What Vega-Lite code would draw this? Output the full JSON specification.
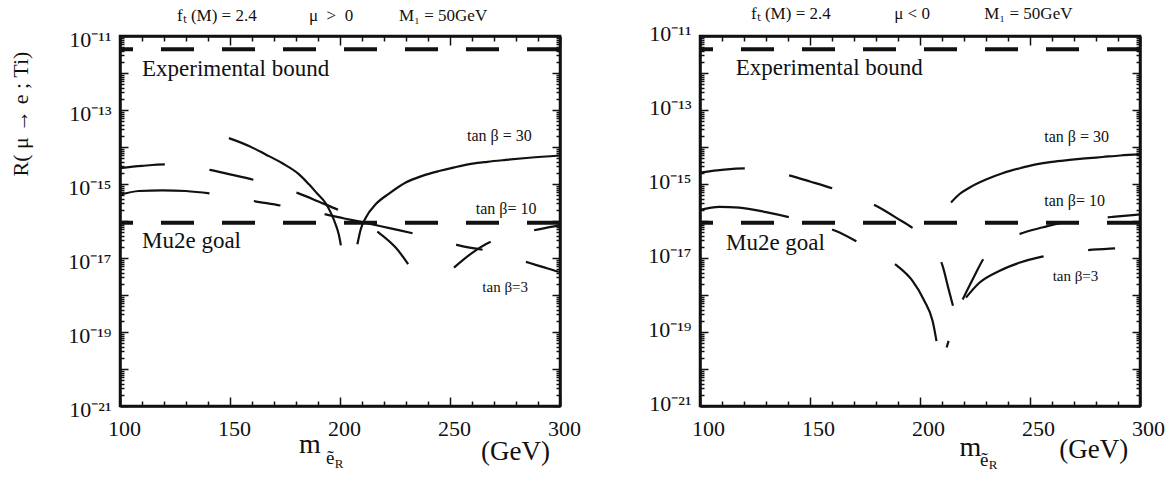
{
  "$schema": "https://vega.github.io/schema/vega-lite/v6.json",
  "padding": {"left": 8, "top": 4, "right": 0, "bottom": 0},
  "background": "white",
  "spacing": 140,
  "bounds": "flush",
  "config": {
    "view": {"stroke": "#111", "strokeWidth": 2.5},
    "font": "Liberation Serif",
    "axis": {"grid": false, "domainColor": "#111", "domainWidth": 2.5, "tickColor": "#111", "tickWidth": 1.5, "labelFont": "Liberation Serif", "labelColor": "#111", "labelFontSize": 22, "labelOverlap": false, "labelFlush": false, "labelBound": false},
    "text": {"font": "Liberation Serif", "color": "#111"}
  },
  "datasets": {
    "curves": [
      {"p":"L","s":"30","b":1,"x":149.5,"y":1.74e-14},
      {"p":"L","s":"30","b":1,"x":158.6,"y":1.07e-14},
      {"p":"L","s":"30","b":1,"x":166.2,"y":6.31e-15},
      {"p":"L","s":"30","b":1,"x":173.8,"y":3.63e-15},
      {"p":"L","s":"30","b":1,"x":181.4,"y":1.82e-15},
      {"p":"L","s":"30","b":1,"x":185.9,"y":9.77e-16},
      {"p":"L","s":"30","b":1,"x":189.5,"y":5.62e-16},
      {"p":"L","s":"30","b":1,"x":193.5,"y":3.02e-16},
      {"p":"L","s":"30","b":1,"x":196.0,"y":1.58e-16},
      {"p":"L","s":"30","b":1,"x":198.0,"y":8.13e-17},
      {"p":"L","s":"30","b":1,"x":199.5,"y":4.17e-17},
      {"p":"L","s":"30","b":1,"x":200.4,"y":2.19e-17},
      {"p":"L","s":"30","b":2,"x":207.9,"y":2.34e-17},
      {"p":"L","s":"30","b":2,"x":209.4,"y":5.89e-17},
      {"p":"L","s":"30","b":2,"x":211.7,"y":1.23e-16},
      {"p":"L","s":"30","b":2,"x":216.2,"y":2.82e-16},
      {"p":"L","s":"30","b":2,"x":222.3,"y":5.50e-16},
      {"p":"L","s":"30","b":2,"x":229.9,"y":1.10e-15},
      {"p":"L","s":"30","b":2,"x":237.4,"y":1.66e-15},
      {"p":"L","s":"30","b":2,"x":245.0,"y":2.24e-15},
      {"p":"L","s":"30","b":2,"x":252.0,"y":2.82e-15},
      {"p":"L","s":"30","b":2,"x":260.2,"y":3.55e-15},
      {"p":"L","s":"30","b":2,"x":267.0,"y":3.98e-15},
      {"p":"L","s":"30","b":2,"x":275.3,"y":4.47e-15},
      {"p":"L","s":"30","b":2,"x":286.0,"y":5.13e-15},
      {"p":"L","s":"30","b":2,"x":300.0,"y":5.89e-15},
      {"p":"L","s":"10","b":1,"x":100.0,"y":2.69e-15},
      {"p":"L","s":"10","b":1,"x":110.0,"y":3.09e-15},
      {"p":"L","s":"10","b":1,"x":120.5,"y":3.39e-15},
      {"p":"L","s":"10","b":1,"x":127.0,"y":3.24e-15},
      {"p":"L","s":"10","b":1,"x":133.0,"y":2.88e-15},
      {"p":"L","s":"10","b":1,"x":140.8,"y":2.40e-15},
      {"p":"L","s":"10","b":1,"x":150.0,"y":1.82e-15},
      {"p":"L","s":"10","b":1,"x":160.9,"y":1.29e-15},
      {"p":"L","s":"10","b":1,"x":171.0,"y":8.71e-16},
      {"p":"L","s":"10","b":1,"x":180.6,"y":5.75e-16},
      {"p":"L","s":"10","b":1,"x":190.5,"y":3.31e-16},
      {"p":"L","s":"10","b":1,"x":200.3,"y":1.86e-16},
      {"p":"L","s":"10","b":1,"x":209.0,"y":1.00e-16},
      {"p":"L","s":"10","b":1,"x":217.7,"y":4.79e-17},
      {"p":"L","s":"10","b":1,"x":225.3,"y":1.91e-17},
      {"p":"L","s":"10","b":1,"x":232.1,"y":5.50e-18},
      {"p":"L","s":"10","b":2,"x":251.8,"y":5.50e-18},
      {"p":"L","s":"10","b":2,"x":260.1,"y":1.38e-17},
      {"p":"L","s":"10","b":2,"x":268.5,"y":2.75e-17},
      {"p":"L","s":"10","b":2,"x":278.0,"y":4.07e-17},
      {"p":"L","s":"10","b":2,"x":288.2,"y":5.62e-17},
      {"p":"L","s":"10","b":2,"x":298.0,"y":7.24e-17},
      {"p":"L","s":"10","b":2,"x":300.0,"y":7.59e-17},
      {"p":"L","s":"3","b":1,"x":100.0,"y":5.13e-16},
      {"p":"L","s":"3","b":1,"x":108.6,"y":6.46e-16},
      {"p":"L","s":"3","b":1,"x":119.2,"y":6.76e-16},
      {"p":"L","s":"3","b":1,"x":129.9,"y":6.46e-16},
      {"p":"L","s":"3","b":1,"x":141.2,"y":5.50e-16},
      {"p":"L","s":"3","b":1,"x":150.0,"y":4.57e-16},
      {"p":"L","s":"3","b":1,"x":160.9,"y":3.47e-16},
      {"p":"L","s":"3","b":1,"x":173.8,"y":2.57e-16},
      {"p":"L","s":"3","b":1,"x":183.0,"y":2.00e-16},
      {"p":"L","s":"3","b":1,"x":193.5,"y":1.51e-16},
      {"p":"L","s":"3","b":1,"x":202.0,"y":1.17e-16},
      {"p":"L","s":"3","b":1,"x":211.7,"y":8.91e-17},
      {"p":"L","s":"3","b":1,"x":223.0,"y":6.31e-17},
      {"p":"L","s":"3","b":1,"x":235.1,"y":4.37e-17},
      {"p":"L","s":"3","b":1,"x":245.0,"y":3.16e-17},
      {"p":"L","s":"3","b":1,"x":254.1,"y":2.19e-17},
      {"p":"L","s":"3","b":1,"x":267.4,"y":1.55e-17},
      {"p":"L","s":"3","b":1,"x":277.0,"y":1.10e-17},
      {"p":"L","s":"3","b":1,"x":285.9,"y":7.41e-18},
      {"p":"L","s":"3","b":1,"x":292.0,"y":5.75e-18},
      {"p":"L","s":"3","b":1,"x":298.0,"y":4.47e-18},
      {"p":"L","s":"3","b":1,"x":300.0,"y":4.17e-18},
      {"p":"R","s":"30","b":1,"x":214.1,"y":3.16e-16},
      {"p":"R","s":"30","b":1,"x":218.0,"y":5.37e-16},
      {"p":"R","s":"30","b":1,"x":222.4,"y":7.94e-16},
      {"p":"R","s":"30","b":1,"x":230.0,"y":1.32e-15},
      {"p":"R","s":"30","b":1,"x":237.5,"y":1.95e-15},
      {"p":"R","s":"30","b":1,"x":245.0,"y":2.63e-15},
      {"p":"R","s":"30","b":1,"x":252.7,"y":3.39e-15},
      {"p":"R","s":"30","b":1,"x":260.0,"y":3.98e-15},
      {"p":"R","s":"30","b":1,"x":267.9,"y":4.47e-15},
      {"p":"R","s":"30","b":1,"x":275.0,"y":4.90e-15},
      {"p":"R","s":"30","b":1,"x":283.0,"y":5.37e-15},
      {"p":"R","s":"30","b":1,"x":291.0,"y":5.89e-15},
      {"p":"R","s":"30","b":1,"x":300.0,"y":6.31e-15},
      {"p":"R","s":"10","b":1,"x":100.0,"y":2.04e-15},
      {"p":"R","s":"10","b":1,"x":111.0,"y":2.45e-15},
      {"p":"R","s":"10","b":1,"x":120.9,"y":2.63e-15},
      {"p":"R","s":"10","b":1,"x":127.0,"y":2.51e-15},
      {"p":"R","s":"10","b":1,"x":134.0,"y":2.14e-15},
      {"p":"R","s":"10","b":1,"x":141.4,"y":1.66e-15},
      {"p":"R","s":"10","b":1,"x":150.0,"y":1.17e-15},
      {"p":"R","s":"10","b":1,"x":161.8,"y":7.08e-16},
      {"p":"R","s":"10","b":1,"x":171.0,"y":4.47e-16},
      {"p":"R","s":"10","b":1,"x":180.0,"y":2.57e-16},
      {"p":"R","s":"10","b":1,"x":189.1,"y":1.23e-16},
      {"p":"R","s":"10","b":1,"x":198.2,"y":5.37e-17},
      {"p":"R","s":"10","b":1,"x":204.0,"y":2.24e-17},
      {"p":"R","s":"10","b":1,"x":210.3,"y":6.03e-18},
      {"p":"R","s":"10","b":1,"x":212.9,"y":1.51e-18},
      {"p":"R","s":"10","b":1,"x":215.6,"y":3.72e-19},
      {"p":"R","s":"10","b":2,"x":219.4,"y":7.59e-19},
      {"p":"R","s":"10","b":2,"x":224.2,"y":2.82e-18},
      {"p":"R","s":"10","b":2,"x":229.2,"y":1.02e-17},
      {"p":"R","s":"10","b":2,"x":237.0,"y":2.51e-17},
      {"p":"R","s":"10","b":2,"x":245.9,"y":4.57e-17},
      {"p":"R","s":"10","b":2,"x":256.0,"y":6.76e-17},
      {"p":"R","s":"10","b":2,"x":266.4,"y":9.55e-17},
      {"p":"R","s":"10","b":2,"x":277.0,"y":1.12e-16},
      {"p":"R","s":"10","b":2,"x":287.5,"y":1.29e-16},
      {"p":"R","s":"10","b":2,"x":300.0,"y":1.51e-16},
      {"p":"R","s":"3","b":1,"x":100.0,"y":2.00e-16},
      {"p":"R","s":"3","b":1,"x":108.8,"y":2.40e-16},
      {"p":"R","s":"3","b":1,"x":117.9,"y":2.29e-16},
      {"p":"R","s":"3","b":1,"x":130.0,"y":1.74e-16},
      {"p":"R","s":"3","b":1,"x":141.4,"y":1.23e-16},
      {"p":"R","s":"3","b":1,"x":151.0,"y":8.51e-17},
      {"p":"R","s":"3","b":1,"x":161.8,"y":5.37e-17},
      {"p":"R","s":"3","b":1,"x":172.4,"y":2.57e-17},
      {"p":"R","s":"3","b":1,"x":181.0,"y":1.32e-17},
      {"p":"R","s":"3","b":1,"x":189.8,"y":6.03e-18},
      {"p":"R","s":"3","b":1,"x":196.6,"y":2.40e-18},
      {"p":"R","s":"3","b":1,"x":202.0,"y":6.92e-19},
      {"p":"R","s":"3","b":1,"x":205.7,"y":2.00e-19},
      {"p":"R","s":"3","b":1,"x":208.0,"y":3.80e-20},
      {"p":"R","s":"3","b":2,"x":212.1,"y":3.80e-20},
      {"p":"R","s":"3","b":2,"x":213.0,"y":5.75e-20},
      {"p":"R","s":"3","b":3,"x":220.9,"y":8.51e-19},
      {"p":"R","s":"3","b":3,"x":227.0,"y":2.14e-18},
      {"p":"R","s":"3","b":3,"x":236.0,"y":4.47e-18},
      {"p":"R","s":"3","b":3,"x":245.1,"y":7.41e-18},
      {"p":"R","s":"3","b":3,"x":255.0,"y":1.07e-17},
      {"p":"R","s":"3","b":3,"x":265.0,"y":1.35e-17},
      {"p":"R","s":"3","b":3,"x":275.5,"y":1.62e-17},
      {"p":"R","s":"3","b":3,"x":288.3,"y":1.82e-17},
      {"p":"R","s":"3","b":3,"x":300.0,"y":1.95e-17}
    ]
  },
  "hconcat": [
    {
      "width": 440, "height": 370,
      "resolve": {"axis": {"x": "independent", "y": "independent"}},
      "layer": [
        {
          "data": {"name": "curves"},
          "transform": [{"filter": "datum.p == 'L' && datum.s == '30'"}],
          "mark": {"type": "line", "stroke": "#111", "strokeWidth": 2.2, "interpolate": "monotone"},
          "encoding": {
            "x": {"field": "x", "type": "quantitative", "scale": {"domain": [100, 300], "nice": false, "zero": false},
              "axis": {"orient": "bottom", "title": null, "values": [100,110,120,130,140,150,160,170,180,190,200,210,220,230,240,250,260,270,280,290,300],
                "tickSize": {"condition": {"test": "datum.value % 50 == 0", "value": -9}, "value": -5},
                "labelExpr": "datum.value % 50 == 0 ? datum.label : ''", "labelPadding": 21, "labelOffset": 4}},
            "y": {"field": "y", "type": "quantitative", "scale": {"type": "log", "domain": [1e-21, 1e-11], "nice": false},
              "axis": {"orient": "left", "title": null,
                "values": [1e-21,2e-21,3e-21,4e-21,5e-21,6e-21,7e-21,8e-21,9e-21,1e-20,2e-20,3e-20,4e-20,5e-20,6e-20,7e-20,8e-20,9e-20,1e-19,2e-19,3e-19,4e-19,5e-19,6e-19,7e-19,8e-19,9e-19,1e-18,2e-18,3e-18,4e-18,5e-18,6e-18,7e-18,8e-18,9e-18,1e-17,2e-17,3e-17,4e-17,5e-17,6e-17,7e-17,8e-17,9e-17,1e-16,2e-16,3e-16,4e-16,5e-16,6e-16,7e-16,8e-16,9e-16,1e-15,2e-15,3e-15,4e-15,5e-15,6e-15,7e-15,8e-15,9e-15,1e-14,2e-14,3e-14,4e-14,5e-14,6e-14,7e-14,8e-14,9e-14,1e-13,2e-13,3e-13,4e-13,5e-13,6e-13,7e-13,8e-13,9e-13,1e-12,2e-12,3e-12,4e-12,5e-12,6e-12,7e-12,8e-12,9e-12,1e-11],
                "tickSize": {"condition": {"test": "abs(log(datum.value)/LN10 - round(log(datum.value)/LN10)) < 0.001", "value": -8}, "value": -4},
                "labelExpr": "abs(log(datum.value)/LN10 - round(log(datum.value)/LN10)) > 0.001 ? '' : round(log(datum.value)/LN10) == -11 ? '10⁻¹¹' : round(log(datum.value)/LN10) == -13 ? '10⁻¹³' : round(log(datum.value)/LN10) == -15 ? '10⁻¹⁵' : round(log(datum.value)/LN10) == -17 ? '10⁻¹⁷' : round(log(datum.value)/LN10) == -19 ? '10⁻¹⁹' : round(log(datum.value)/LN10) == -21 ? '10⁻²¹' : ''",
                "labelPadding": 17, "labelOffset": 3}},
            "detail": {"field": "b"}
          }
        },
        {
          "data": {"name": "curves"},
          "transform": [{"filter": "datum.p == 'L' && datum.s == '10'"}],
          "mark": {"type": "line", "stroke": "#111", "strokeWidth": 2.2, "interpolate": "monotone", "strokeDash": [45, 45]},
          "encoding": {
            "x": {"field": "x", "type": "quantitative", "axis": null},
            "y": {"field": "y", "type": "quantitative", "axis": null},
            "detail": {"field": "b"}
          }
        },
        {
          "data": {"name": "curves"},
          "transform": [{"filter": "datum.p == 'L' && datum.s == '3'"}],
          "mark": {"type": "line", "stroke": "#111", "strokeWidth": 2.2, "interpolate": "monotone", "strokeDash": [90, 45, 27, 45]},
          "encoding": {
            "x": {"field": "x", "type": "quantitative",
              "axis": {"orient": "top", "title": null, "labels": false, "values": [100,110,120,130,140,150,160,170,180,190,200,210,220,230,240,250,260,270,280,290,300],
                "tickSize": {"condition": {"test": "datum.value % 50 == 0", "value": -9}, "value": -5}}},
            "y": {"field": "y", "type": "quantitative",
              "axis": {"orient": "right", "title": null, "labels": false,
                "values": [1e-21,2e-21,3e-21,4e-21,5e-21,6e-21,7e-21,8e-21,9e-21,1e-20,2e-20,3e-20,4e-20,5e-20,6e-20,7e-20,8e-20,9e-20,1e-19,2e-19,3e-19,4e-19,5e-19,6e-19,7e-19,8e-19,9e-19,1e-18,2e-18,3e-18,4e-18,5e-18,6e-18,7e-18,8e-18,9e-18,1e-17,2e-17,3e-17,4e-17,5e-17,6e-17,7e-17,8e-17,9e-17,1e-16,2e-16,3e-16,4e-16,5e-16,6e-16,7e-16,8e-16,9e-16,1e-15,2e-15,3e-15,4e-15,5e-15,6e-15,7e-15,8e-15,9e-15,1e-14,2e-14,3e-14,4e-14,5e-14,6e-14,7e-14,8e-14,9e-14,1e-13,2e-13,3e-13,4e-13,5e-13,6e-13,7e-13,8e-13,9e-13,1e-12,2e-12,3e-12,4e-12,5e-12,6e-12,7e-12,8e-12,9e-12,1e-11],
                "tickSize": {"condition": {"test": "abs(log(datum.value)/LN10 - round(log(datum.value)/LN10)) < 0.001", "value": -8}, "value": -4}}},
            "detail": {"field": "b"}
          }
        },
        {
          "data": {"values": [{}]},
          "mark": {"type": "rule", "stroke": "#111", "strokeWidth": 4, "strokeDash": [33, 28]},
          "encoding": {"y": {"datum": 4.37e-12, "type": "quantitative", "axis": null}}
        },
        {
          "data": {"values": [{}]},
          "mark": {"type": "rule", "stroke": "#111", "strokeWidth": 4, "strokeDash": [33, 28]},
          "encoding": {"y": {"datum": 8.9e-17, "type": "quantitative", "axis": null}}
        },
        {"data": {"values": [{}]}, "mark": {"type": "text", "align": "left", "baseline": "alphabetic", "fontSize": 17},
          "encoding": {"x": {"datum": 125.9, "type": "quantitative", "axis": null}, "y": {"datum": 2.54e-11, "type": "quantitative", "axis": null}, "text": {"value": "fₜ (M) = 2.4"}}},
        {"data": {"values": [{}]}, "mark": {"type": "text", "align": "left", "baseline": "alphabetic", "fontSize": 17},
          "encoding": {"x": {"datum": 185.9, "type": "quantitative", "axis": null}, "y": {"datum": 2.54e-11, "type": "quantitative", "axis": null}, "text": {"value": "μ\u2002>\u20020"}}},
        {"data": {"values": [{}]}, "mark": {"type": "text", "align": "left", "baseline": "alphabetic", "fontSize": 17},
          "encoding": {"x": {"datum": 226.8, "type": "quantitative", "axis": null}, "y": {"datum": 2.54e-11, "type": "quantitative", "axis": null}, "text": {"value": "M₁ = 50GeV"}}},
        {"data": {"values": [{}]}, "mark": {"type": "text", "align": "left", "baseline": "alphabetic", "fontSize": 23},
          "encoding": {"x": {"datum": 110, "type": "quantitative", "axis": null}, "y": {"datum": 8.32e-13, "type": "quantitative", "axis": null}, "text": {"value": "Experimental bound"}}},
        {"data": {"values": [{}]}, "mark": {"type": "text", "align": "left", "baseline": "alphabetic", "fontSize": 23},
          "encoding": {"x": {"datum": 110, "type": "quantitative", "axis": null}, "y": {"datum": 1.86e-17, "type": "quantitative", "axis": null}, "text": {"value": "Mu2e goal"}}},
        {"data": {"values": [{}]}, "mark": {"type": "text", "align": "left", "baseline": "alphabetic", "fontSize": 16},
          "encoding": {"x": {"datum": 257.7, "type": "quantitative", "axis": null}, "y": {"datum": 1.45e-14, "type": "quantitative", "axis": null}, "text": {"value": "tan β = 30"}}},
        {"data": {"values": [{}]}, "mark": {"type": "text", "align": "left", "baseline": "alphabetic", "fontSize": 16},
          "encoding": {"x": {"datum": 261.7, "type": "quantitative", "axis": null}, "y": {"datum": 1.51e-16, "type": "quantitative", "axis": null}, "text": {"value": "tan β= 10"}}},
        {"data": {"values": [{}]}, "mark": {"type": "text", "align": "left", "baseline": "alphabetic", "fontSize": 15},
          "encoding": {"x": {"datum": 264.7, "type": "quantitative", "axis": null}, "y": {"datum": 1.23e-18, "type": "quantitative", "axis": null}, "text": {"value": "tan β=3"}}},
        {"data": {"values": [{}]}, "mark": {"type": "text", "align": "center", "baseline": "middle", "fontSize": 22, "angle": 270},
          "encoding": {"x": {"datum": 55, "type": "quantitative", "axis": null}, "y": {"datum": 7.76e-14, "type": "quantitative", "axis": null}, "text": {"value": "R( μ → e ; Ti)"}}},
        {"data": {"values": [{}]}, "mark": {"type": "text", "align": "left", "baseline": "alphabetic", "fontSize": 28},
          "encoding": {"x": {"datum": 181.4, "type": "quantitative", "axis": null}, "y": {"datum": 5.37e-23, "type": "quantitative", "axis": null}, "text": {"value": "m"}}},
        {"data": {"values": [{}]}, "mark": {"type": "text", "align": "left", "baseline": "alphabetic", "fontSize": 19},
          "encoding": {"x": {"datum": 193.6, "type": "quantitative", "axis": null}, "y": {"datum": 2.69e-23, "type": "quantitative", "axis": null}, "text": {"value": "ẽ"}}},
        {"data": {"values": [{}]}, "mark": {"type": "text", "align": "left", "baseline": "alphabetic", "fontSize": 13},
          "encoding": {"x": {"datum": 197.6, "type": "quantitative", "axis": null}, "y": {"datum": 2.14e-23, "type": "quantitative", "axis": null}, "text": {"value": "R"}}},
        {"data": {"values": [{}]}, "mark": {"type": "text", "align": "left", "baseline": "alphabetic", "fontSize": 27},
          "encoding": {"x": {"datum": 264.1, "type": "quantitative", "axis": null}, "y": {"datum": 3.4e-23, "type": "quantitative", "axis": null}, "text": {"value": "(GeV)"}}}
      ]
    },
    {
      "width": 440, "height": 370,
      "resolve": {"axis": {"x": "independent", "y": "independent"}},
      "layer": [
        {
          "data": {"name": "curves"},
          "transform": [{"filter": "datum.p == 'R' && datum.s == '30'"}],
          "mark": {"type": "line", "stroke": "#111", "strokeWidth": 2.2, "interpolate": "monotone"},
          "encoding": {
            "x": {"field": "x", "type": "quantitative", "scale": {"domain": [100, 300], "nice": false, "zero": false},
              "axis": {"orient": "bottom", "title": null, "values": [100,110,120,130,140,150,160,170,180,190,200,210,220,230,240,250,260,270,280,290,300],
                "tickSize": {"condition": {"test": "datum.value % 50 == 0", "value": -9}, "value": -5},
                "labelExpr": "datum.value % 50 == 0 ? datum.label : ''", "labelPadding": 21, "labelOffset": 8}},
            "y": {"field": "y", "type": "quantitative", "scale": {"type": "log", "domain": [1e-21, 1e-11], "nice": false},
              "axis": {"orient": "left", "title": null,
                "values": [1e-21,2e-21,3e-21,4e-21,5e-21,6e-21,7e-21,8e-21,9e-21,1e-20,2e-20,3e-20,4e-20,5e-20,6e-20,7e-20,8e-20,9e-20,1e-19,2e-19,3e-19,4e-19,5e-19,6e-19,7e-19,8e-19,9e-19,1e-18,2e-18,3e-18,4e-18,5e-18,6e-18,7e-18,8e-18,9e-18,1e-17,2e-17,3e-17,4e-17,5e-17,6e-17,7e-17,8e-17,9e-17,1e-16,2e-16,3e-16,4e-16,5e-16,6e-16,7e-16,8e-16,9e-16,1e-15,2e-15,3e-15,4e-15,5e-15,6e-15,7e-15,8e-15,9e-15,1e-14,2e-14,3e-14,4e-14,5e-14,6e-14,7e-14,8e-14,9e-14,1e-13,2e-13,3e-13,4e-13,5e-13,6e-13,7e-13,8e-13,9e-13,1e-12,2e-12,3e-12,4e-12,5e-12,6e-12,7e-12,8e-12,9e-12,1e-11],
                "tickSize": {"condition": {"test": "abs(log(datum.value)/LN10 - round(log(datum.value)/LN10)) < 0.001", "value": -8}, "value": -4},
                "labelExpr": "abs(log(datum.value)/LN10 - round(log(datum.value)/LN10)) > 0.001 ? '' : round(log(datum.value)/LN10) == -11 ? '10⁻¹¹' : round(log(datum.value)/LN10) == -13 ? '10⁻¹³' : round(log(datum.value)/LN10) == -15 ? '10⁻¹⁵' : round(log(datum.value)/LN10) == -17 ? '10⁻¹⁷' : round(log(datum.value)/LN10) == -19 ? '10⁻¹⁹' : round(log(datum.value)/LN10) == -21 ? '10⁻²¹' : ''",
                "labelPadding": 17, "labelOffset": -3}},
            "detail": {"field": "b"}
          }
        },
        {
          "data": {"name": "curves"},
          "transform": [{"filter": "datum.p == 'R' && datum.s == '10'"}],
          "mark": {"type": "line", "stroke": "#111", "strokeWidth": 2.2, "interpolate": "monotone", "strokeDash": [45, 45]},
          "encoding": {
            "x": {"field": "x", "type": "quantitative", "axis": null},
            "y": {"field": "y", "type": "quantitative", "axis": null},
            "detail": {"field": "b"}
          }
        },
        {
          "data": {"name": "curves"},
          "transform": [{"filter": "datum.p == 'R' && datum.s == '3'"}],
          "mark": {"type": "line", "stroke": "#111", "strokeWidth": 2.2, "interpolate": "monotone", "strokeDash": [90, 45, 27, 45]},
          "encoding": {
            "x": {"field": "x", "type": "quantitative",
              "axis": {"orient": "top", "title": null, "labels": false, "values": [100,110,120,130,140,150,160,170,180,190,200,210,220,230,240,250,260,270,280,290,300],
                "tickSize": {"condition": {"test": "datum.value % 50 == 0", "value": -9}, "value": -5}}},
            "y": {"field": "y", "type": "quantitative",
              "axis": {"orient": "right", "title": null, "labels": false,
                "values": [1e-21,2e-21,3e-21,4e-21,5e-21,6e-21,7e-21,8e-21,9e-21,1e-20,2e-20,3e-20,4e-20,5e-20,6e-20,7e-20,8e-20,9e-20,1e-19,2e-19,3e-19,4e-19,5e-19,6e-19,7e-19,8e-19,9e-19,1e-18,2e-18,3e-18,4e-18,5e-18,6e-18,7e-18,8e-18,9e-18,1e-17,2e-17,3e-17,4e-17,5e-17,6e-17,7e-17,8e-17,9e-17,1e-16,2e-16,3e-16,4e-16,5e-16,6e-16,7e-16,8e-16,9e-16,1e-15,2e-15,3e-15,4e-15,5e-15,6e-15,7e-15,8e-15,9e-15,1e-14,2e-14,3e-14,4e-14,5e-14,6e-14,7e-14,8e-14,9e-14,1e-13,2e-13,3e-13,4e-13,5e-13,6e-13,7e-13,8e-13,9e-13,1e-12,2e-12,3e-12,4e-12,5e-12,6e-12,7e-12,8e-12,9e-12,1e-11],
                "tickSize": {"condition": {"test": "abs(log(datum.value)/LN10 - round(log(datum.value)/LN10)) < 0.001", "value": -8}, "value": -4}}},
            "detail": {"field": "b"}
          }
        },
        {
          "data": {"values": [{}]},
          "mark": {"type": "rule", "stroke": "#111", "strokeWidth": 4, "strokeDash": [33, 28]},
          "encoding": {"y": {"datum": 4.37e-12, "type": "quantitative", "axis": null}}
        },
        {
          "data": {"values": [{}]},
          "mark": {"type": "rule", "stroke": "#111", "strokeWidth": 4, "strokeDash": [33, 28]},
          "encoding": {"y": {"datum": 8.9e-17, "type": "quantitative", "axis": null}}
        },
        {"data": {"values": [{}]}, "mark": {"type": "text", "align": "left", "baseline": "alphabetic", "fontSize": 17},
          "encoding": {"x": {"datum": 123.2, "type": "quantitative", "axis": null}, "y": {"datum": 2.82e-11, "type": "quantitative", "axis": null}, "text": {"value": "fₜ (M) = 2.4"}}},
        {"data": {"values": [{}]}, "mark": {"type": "text", "align": "left", "baseline": "alphabetic", "fontSize": 17},
          "encoding": {"x": {"datum": 188.3, "type": "quantitative", "axis": null}, "y": {"datum": 2.82e-11, "type": "quantitative", "axis": null}, "text": {"value": "μ < 0"}}},
        {"data": {"values": [{}]}, "mark": {"type": "text", "align": "left", "baseline": "alphabetic", "fontSize": 17},
          "encoding": {"x": {"datum": 229.2, "type": "quantitative", "axis": null}, "y": {"datum": 2.82e-11, "type": "quantitative", "axis": null}, "text": {"value": "M₁ = 50GeV"}}},
        {"data": {"values": [{}]}, "mark": {"type": "text", "align": "left", "baseline": "alphabetic", "fontSize": 23},
          "encoding": {"x": {"datum": 116.2, "type": "quantitative", "axis": null}, "y": {"datum": 8.91e-13, "type": "quantitative", "axis": null}, "text": {"value": "Experimental bound"}}},
        {"data": {"values": [{}]}, "mark": {"type": "text", "align": "left", "baseline": "alphabetic", "fontSize": 23},
          "encoding": {"x": {"datum": 111.8, "type": "quantitative", "axis": null}, "y": {"datum": 1.62e-17, "type": "quantitative", "axis": null}, "text": {"value": "Mu2e goal"}}},
        {"data": {"values": [{}]}, "mark": {"type": "text", "align": "left", "baseline": "alphabetic", "fontSize": 16},
          "encoding": {"x": {"datum": 256.5, "type": "quantitative", "axis": null}, "y": {"datum": 1.38e-14, "type": "quantitative", "axis": null}, "text": {"value": "tan β = 30"}}},
        {"data": {"values": [{}]}, "mark": {"type": "text", "align": "left", "baseline": "alphabetic", "fontSize": 16},
          "encoding": {"x": {"datum": 256.5, "type": "quantitative", "axis": null}, "y": {"datum": 2.57e-16, "type": "quantitative", "axis": null}, "text": {"value": "tan β= 10"}}},
        {"data": {"values": [{}]}, "mark": {"type": "text", "align": "left", "baseline": "alphabetic", "fontSize": 15},
          "encoding": {"x": {"datum": 260.3, "type": "quantitative", "axis": null}, "y": {"datum": 2.4e-18, "type": "quantitative", "axis": null}, "text": {"value": "tan β=3"}}},
        {"data": {"values": [{}]}, "mark": {"type": "text", "align": "left", "baseline": "alphabetic", "fontSize": 28},
          "encoding": {"x": {"datum": 217.9, "type": "quantitative", "axis": null}, "y": {"datum": 4.47e-23, "type": "quantitative", "axis": null}, "text": {"value": "m"}}},
        {"data": {"values": [{}]}, "mark": {"type": "text", "align": "left", "baseline": "alphabetic", "fontSize": 19},
          "encoding": {"x": {"datum": 227.3, "type": "quantitative", "axis": null}, "y": {"datum": 2.4e-23, "type": "quantitative", "axis": null}, "text": {"value": "ẽ"}}},
        {"data": {"values": [{}]}, "mark": {"type": "text", "align": "left", "baseline": "alphabetic", "fontSize": 13},
          "encoding": {"x": {"datum": 231.3, "type": "quantitative", "axis": null}, "y": {"datum": 2.04e-23, "type": "quantitative", "axis": null}, "text": {"value": "R"}}},
        {"data": {"values": [{}]}, "mark": {"type": "text", "align": "left", "baseline": "alphabetic", "fontSize": 27},
          "encoding": {"x": {"datum": 263.3, "type": "quantitative", "axis": null}, "y": {"datum": 3.98e-23, "type": "quantitative", "axis": null}, "text": {"value": "(GeV)"}}}
      ]
    }
  ]
}
